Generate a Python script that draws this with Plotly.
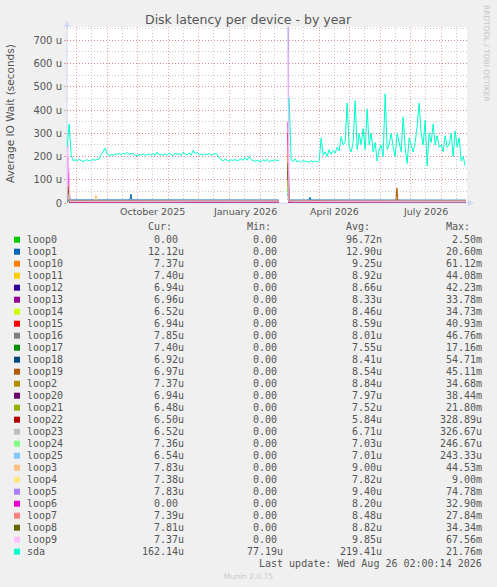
import pandas as pd
import plotly.graph_objects as go

N = None

# sda: one value every 2 days from the first day shown (microseconds)
SDA_START = "2025-07-22 06:00"
sda = [240, 340, 205, 182, 186, 180, 188, 184, 178, 183, 186, 181, 185, 187, 184, 186, 190,
       208, 222, 236, 210, 204, 208, 206, 211, 209, 213, 207, 215, 210, 218, 208, 214, 212,
       205, 203, 209, 206, 211, 204, 208, 210, 206, 213, 205, 219, 207, 210, 204, 212, 206,
       216, 208, 203, 214, 209, 212, 205, 218, 210, 208, 215, 206, 226, 212, 218, 207, 210,
       205, 211, 208, 212, 206, 210, 213, 209, 194, 186, 182, 188, 184, 180, 186, 183, 188,
       181, 185, 190, 183, 196, 184, 200, 186, 182, 179, 184, 181, 178, 186, 180, 188, 176,
       183, 180, 186, 182, 185,
       N, N, N, N,
       450,
       185, 178, 190, 176, 182, 175, 184, 178, 180, 174, 183, 177, 181, 176, 182, 280, 205,
       220, 200, 230, 210, 225, 215, 240, 225, 285, 250, 260, 430, 240, 220, 260, 440, 230,
       300, 250, 320, 230, 405, 250, 300, 220, 260, 180, 230, 250, 200, 470, 230, 250, 300,
       240, 200, 300, 260, 220, 370, 240, 170, 280, 250, 220, 260, 330, 430, 300, 250, 355,
       160, 300, 260, 340, 250, 290, 240, 250, 220, 290, 240, 250, 300, 200, 310, 240, 280,
       180, 200, 160]

# loop devices: sampled at these dates (microseconds)
LOOP_DATES = ["2025-07-22 06:00", "2025-07-23", "2025-07-25", "2025-08-19", "2025-08-20",
              "2025-08-21", "2025-09-23", "2025-09-24", "2025-09-25", "2025-12-01",
              "2026-02-19", "2026-02-24", "2026-02-28", "2026-03-01", "2026-03-21",
              "2026-03-22", "2026-03-23", "2026-05-01", "2026-06-16", "2026-06-17",
              "2026-06-18", "2026-08-25"]
loop0 = [0, 14, 0, 0, 0, 0, 0, 0, 0, 0, 0, N, 60, 0, 0, 0, 0, 0, 0, 0, 0, 0]
loop1 = [13, 13, 12.5, 13, 13, 13, 13, 38, 13, 12.8, 12.6, N, 40, 12.6, 12.6, 25, 12.8, 12.6, 12.4, 12.4, 12.4, 12.1]
loop10 = [9, 80, 7.5, 6, 7, 6, 7.5, 7, 6, 7, 8, N, 180, 7, 6, 7, 6, 8, 7, 7, 7, 7.4]
loop11 = [8, 90, 8, 7, 6, 7, 7, 6, 7, 8, 7, N, 200, 8, 7, 6, 7, 7, 8, 7, 7, 7.4]
loop12 = [8, 70, 6, 6, 7, 6, 6, 7, 6, 6, 7, N, 160, 6, 7, 6, 6, 7, 6, 6, 7, 6.9]
loop13 = [8, 60, 6, 7, 6, 6, 7, 6, 7, 6, 6, N, 140, 6, 6, 7, 6, 6, 7, 6, 6, 7]
loop14 = [7, 50, 5, 6, 6, 5, 6, 6, 5, 6, 6, N, 130, 6, 5, 6, 6, 5, 6, 6, 5, 6.5]
loop15 = [8, 70, 6, 7, 6, 7, 6, 6, 7, 6, 7, N, 300, 7, 6, 7, 6, 7, 6, 7, 6, 6.9]
loop16 = [8, 60, 7, 8, 7, 8, 7, 8, 7, 8, 7, N, 150, 8, 7, 8, 7, 8, 7, 8, 7, 7.9]
loop17 = [7, 40, 7, 7, 8, 7, 7, 8, 7, 7, 8, N, 100, 7, 7, 8, 7, 7, 8, 7, 7, 7.4]
loop18 = [8, 80, 7, 6, 7, 7, 6, 7, 7, 6, 7, N, 170, 7, 6, 7, 7, 6, 7, 7, 6, 6.9]
loop19 = [8, 70, 7, 6, 7, 6, 7, 6, 7, 7, 6, N, 160, 7, 6, 7, 6, 7, 9, 65, 9, 7]
loop2 = [8, 60, 7, 8, 7, 7, 8, 7, 7, 8, 7, N, 130, 7, 8, 7, 7, 8, 7, 8, 7, 7.4]
loop20 = [8, 60, 6, 7, 6, 7, 7, 6, 7, 6, 7, N, 140, 6, 7, 7, 6, 7, 6, 7, 7, 6.9]
loop21 = [7, 40, 6, 6, 7, 6, 6, 7, 6, 6, 7, N, 90, 6, 6, 7, 6, 6, 7, 6, 6, 6.5]
loop22 = [6, 30, 5, 6, 5, 6, 5, 6, 5, 6, 5, N, 20, 6, 5, 6, 5, 6, 5, 6, 5, 6.5]
loop23 = [7, 30, 6, 7, 6, 7, 6, 7, 6, 7, 6, N, 20, 7, 6, 7, 6, 7, 6, 7, 6, 6.5]
loop24 = [7, 40, 7, 7, 7, 7, 7, 7, 7, 7, 7, N, 20, 7, 7, 7, 7, 7, 7, 7, 7, 7.4]
loop25 = [7, 35, 7, 6, 7, 7, 6, 7, 7, 6, 7, N, 20, 7, 6, 7, 7, 6, 7, 7, 6, 6.5]
loop3 = [8, 90, 8, 8, 35, 8, 8, 8, 8, 8, 8, N, 200, 8, 8, 8, 8, 8, 8, 8, 8, 7.8]
loop4 = [8, 50, 7, 7, 8, 7, 8, 7, 8, 7, 8, N, 100, 7, 8, 7, 8, 7, 8, 7, 8, 7.4]
loop5 = [9, 150, 8, 8, 9, 8, 9, 8, 9, 8, 9, N, 900, 9, 8, 9, 8, 9, 8, 9, 8, 7.8]
loop6 = [8, 200, 0, 0, 0, 0, 0, 0, 0, 0, 0, N, 350, 0, 0, 0, 0, 0, 0, 0, 0, 0]
loop7 = [8, 80, 7, 8, 7, 8, 7, 8, 7, 8, 7, N, 220, 7, 8, 7, 8, 7, 8, 7, 8, 7.4]
loop8 = [8, 70, 8, 7, 8, 8, 7, 8, 8, 7, 8, N, 170, 8, 7, 8, 8, 7, 8, 8, 7, 7.8]
loop9 = [9, 250, 7, 7, 8, 7, 7, 8, 7, 7, 8, N, 660, 8, 7, 7, 8, 7, 7, 8, 7, 7.4]

NAMES = ["loop0", "loop1", "loop10", "loop11", "loop12", "loop13", "loop14", "loop15",
         "loop16", "loop17", "loop18", "loop19", "loop2", "loop20", "loop21", "loop22",
         "loop23", "loop24", "loop25", "loop3", "loop4", "loop5", "loop6", "loop7", "loop8",
         "loop9", "sda"]
LOOPS = [loop0, loop1, loop10, loop11, loop12, loop13, loop14, loop15, loop16, loop17,
         loop18, loop19, loop2, loop20, loop21, loop22, loop23, loop24, loop25, loop3,
         loop4, loop5, loop6, loop7, loop8, loop9]
COLORS = ["#00CC00", "#0066B3", "#FF8000", "#FFCC00", "#330099", "#990099", "#CCFF00",
          "#FF0000", "#808080", "#008F00", "#00487D", "#B35A00", "#B38F00", "#6B006B",
          "#8FB300", "#B30000", "#BEBEBE", "#80FF80", "#80C9FF", "#FFC080", "#FFE680",
          "#AA80FF", "#EE00CC", "#FF8080", "#666600", "#FFBFFF", "#00FFCC"]

CUR = ["0.00", "12.12u", "7.37u", "7.40u", "6.94u", "6.96u", "6.52u", "6.94u", "7.85u",
       "7.40u", "6.92u", "6.97u", "7.37u", "6.94u", "6.48u", "6.50u", "6.52u", "7.36u",
       "6.54u", "7.83u", "7.38u", "7.83u", "0.00", "7.39u", "7.81u", "7.37u", "162.14u"]
MIN = ["0.00"] * 26 + ["77.19u"]
AVG = ["96.72n", "12.90u", "9.25u", "8.92u", "8.66u", "8.33u", "8.46u", "8.59u", "8.01u",
       "7.55u", "8.41u", "8.54u", "8.84u", "7.97u", "7.52u", "5.84u", "6.71u", "7.03u",
       "7.01u", "9.00u", "7.82u", "9.40u", "8.20u", "8.48u", "8.82u", "9.85u", "219.41u"]
MAX = ["2.50m", "20.60m", "61.12m", "44.08m", "42.23m", "33.78m", "34.73m", "40.93m",
       "46.76m", "17.16m", "54.71m", "45.11m", "34.68m", "38.44m", "21.80m", "328.89u",
       "326.67u", "246.67u", "243.33u", "44.53m", "9.00m", "74.78m", "32.90m", "27.84m",
       "34.34m", "67.56m", "21.76m"]

MONTH_STARTS = ["2025-08-01", "2025-09-01", "2025-10-01", "2025-11-01", "2025-12-01",
                "2026-01-01", "2026-02-01", "2026-03-01", "2026-04-01", "2026-05-01",
                "2026-06-01", "2026-07-01", "2026-08-01"]
MID_MONTHS = ["2025-08-16", "2025-09-16", "2025-10-16", "2025-11-16", "2025-12-16",
              "2026-01-16", "2026-02-15", "2026-03-16", "2026-04-16", "2026-05-16",
              "2026-06-16", "2026-07-16", "2026-08-16"]
LABEL_DATES = ["2025-10-16", "2026-01-16", "2026-04-16", "2026-07-16"]
LABEL_TEXT = ["October 2025", "January 2026", "April 2026", "July 2026"]
Y_TICKS = [0, 100, 200, 300, 400, 500, 600, 700]
Y_TEXT = ["0", "100 u", "200 u", "300 u", "400 u", "500 u", "600 u", "700 u"]

# plot area in pixels
L, T, W, H = 67, 27, 400, 176
B = T + H


def px_x(px):
    return (px - L) / W


def px_y(py):
    return (B - py) / H


TXT = "#555555"
MONO = "DejaVu Sans Mono"

fig = go.Figure()
for name, vals, col in zip(NAMES, LOOPS, COLORS):
    fig.add_trace(go.Scatter(x=LOOP_DATES, y=vals, mode="lines", name=name,
                             line=dict(color=col, width=1), connectgaps=False,
                             hoverinfo="skip", showlegend=False))
sda_x = pd.date_range(SDA_START, periods=len(sda), freq="2D")
fig.add_trace(go.Scatter(x=sda_x, y=sda, mode="lines", name="sda",
                         line=dict(color=COLORS[-1], width=1), connectgaps=False,
                         hoverinfo="skip", showlegend=False))

ann = []
shapes = []


def label(px, py, text, size, color=TXT, family="DejaVu Sans", xa="center", angle=0):
    ann.append(dict(x=px_x(px), y=px_y(py), xref="paper", yref="paper", text=text,
                    showarrow=False, xanchor=xa, yanchor="middle", borderpad=0,
                    textangle=angle, font=dict(family=family, size=size, color=color)))


for d, t in zip(LABEL_DATES, LABEL_TEXT):
    ann.append(dict(x=d, xref="x", y=px_y(211), yref="paper", text=t, showarrow=False,
                    xanchor="center", yanchor="middle", borderpad=0,
                    font=dict(family="DejaVu Sans", size=9.5, color=TXT)))

label(248, 19, "Disk latency per device - by year", 12.5)
label(10, 114, "Average IO Wait (seconds)", 10.5, angle=-90)
label(487, 53, "RRDTOOL / TOBI OETIKER", 7.5, color="#c4c4c4", angle=90)

# legend table
col_right = [185, 284, 383, 483]
headers = ["Cur:", "Min:", "Avg:", "Max:"]
for cx, h in zip(col_right, headers):
    label(cx, 227, h + "\u00a0\u00a0", 10, family=MONO, xa="right")


def cell(v):
    return v if v[-1].isalpha() else v + "\u00a0"


for k, name in enumerate(NAMES):
    ry = 239.7 + 12 * k
    shapes.append(dict(type="rect", xref="paper", yref="paper",
                       x0=px_x(14), x1=px_x(20), y0=px_y(ry - 3), y1=px_y(ry + 3),
                       fillcolor=COLORS[k], line=dict(width=0)))
    label(26, ry, name, 10, family=MONO, xa="left")
    for cx, v in zip(col_right, [CUR[k], MIN[k], AVG[k], MAX[k]]):
        label(cx, ry, cell(v), 10, family=MONO, xa="right")

label(483, 563.5, "Last update: Wed Aug 26 02:00:14 2026", 10, family=MONO, xa="right")
label(248, 576, "Munin 2.0.75", 7.5, color="#c8c8c8")

# axes with arrows
AX = "#CFD6F8"
shapes.append(dict(type="line", xref="paper", yref="paper", x0=0, x1=px_x(470),
                   y0=0, y1=0, line=dict(color=AX, width=1), layer="between"))
shapes.append(dict(type="line", xref="paper", yref="paper", x0=0, x1=0,
                   y0=0, y1=px_y(24), line=dict(color=AX, width=1), layer="between"))
shapes.append(dict(type="path", xref="paper", yref="paper", fillcolor=AX,
                   line=dict(width=0),
                   path=f"M {px_x(468)} {px_y(200)} L {px_x(474)} {px_y(203)} "
                        f"L {px_x(468)} {px_y(206)} Z"))
shapes.append(dict(type="path", xref="paper", yref="paper", fillcolor=AX,
                   line=dict(width=0),
                   path=f"M {px_x(64)} {px_y(27)} L {px_x(67)} {px_y(21)} "
                        f"L {px_x(70)} {px_y(27)} Z"))

RED = "rgba(222,90,90,0.55)"
GRAY = "rgba(150,150,150,0.5)"
fig.update_layout(
    width=497, height=587,
    margin=dict(l=L, r=497 - L - W, t=T, b=587 - B),
    paper_bgcolor="#F0F0F0", plot_bgcolor="white",
    showlegend=False,
    annotations=ann, shapes=shapes,
    xaxis=dict(type="date", range=["2025-07-22 02:00", "2026-08-26 02:00"],
               tickvals=MONTH_STARTS, showticklabels=False, ticks="",
               showgrid=True, gridcolor=RED, griddash="1px,2px", gridwidth=1,
               minor=dict(tickvals=MID_MONTHS, showgrid=True, gridcolor=GRAY,
                          griddash="1px,2px", ticks=""),
               zeroline=False, showline=False, fixedrange=True),
    yaxis=dict(range=[0, 757], tickvals=Y_TICKS, ticktext=Y_TEXT,
               ticks="outside", ticklen=2, tickcolor=RED,
               tickfont=dict(family="DejaVu Sans", size=10, color=TXT),
               showgrid=True, gridcolor=RED, griddash="1px,2px",
               minor=dict(dtick=50, tick0=0, showgrid=True, gridcolor=GRAY,
                          griddash="1px,2px"),
               zeroline=False, showline=False, fixedrange=True),
)

# the page itself: no body margin, same grey as the chart
fig.write_html("out.html", config={"staticPlot": True},
               post_script="document.body.style.margin='0';"
                           "document.body.style.background='#F0F0F0';")
